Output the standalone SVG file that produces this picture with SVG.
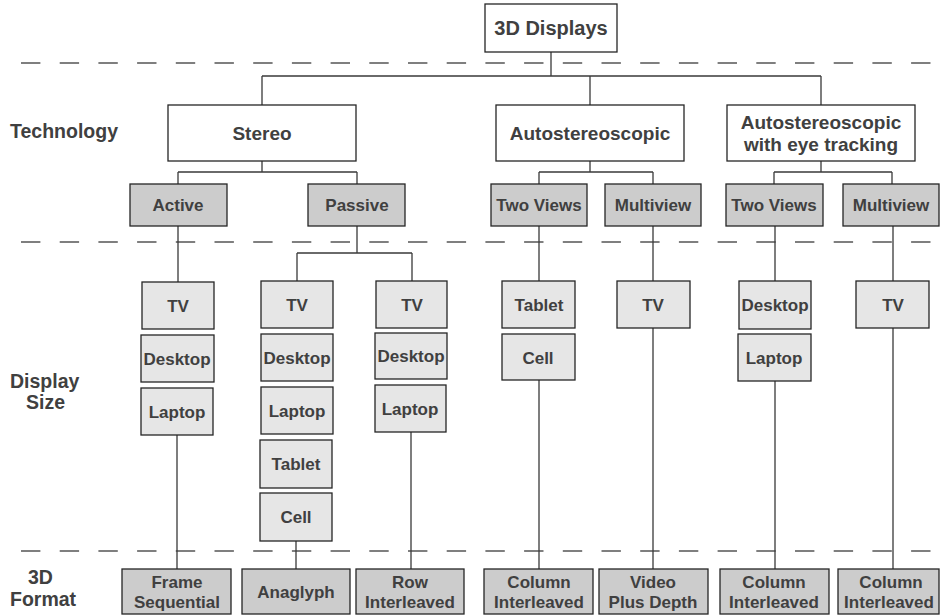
<svg xmlns="http://www.w3.org/2000/svg" width="940" height="616" viewBox="0 0 940 616">
  <style>
    text { font-family: "Liberation Sans", Arial, sans-serif; font-weight: bold; fill: #404040; text-anchor: middle; }
    .lbl { text-anchor: start; font-size: 19.5px; }
    .big { font-size: 19px; }
    .sm { font-size: 17px; }
    .box { stroke: #262626; stroke-width: 1.3; }
    .white { fill: #ffffff; }
    .tech { fill: #cccccc; }
    .size { fill: #e6e6e6; }
    .fmt { fill: #cccccc; }
    .sep { stroke: #555555; stroke-width: 1.3; stroke-dasharray: 19.4 19.3; fill: none; }
    .conn { stroke: #3a3a3a; stroke-width: 1.3; fill: none; }
  </style>
  <rect width="940" height="616" fill="#ffffff"/>

  <!-- layer separators -->
  <g id="separators">
    <line class="sep" x1="21" y1="63" x2="940" y2="63"/>
    <line class="sep" x1="21" y1="242" x2="940" y2="242"/>
    <line class="sep" x1="21" y1="551" x2="940" y2="551"/>
  </g>

  <!-- layer labels -->
  <g id="layer-labels">
    <text class="lbl" x="10" y="138">Technology</text>
    <text class="lbl" x="10" y="388">Display</text>
    <text class="lbl" x="26" y="409">Size</text>
    <text class="lbl" x="28" y="584">3D</text>
    <text class="lbl" x="10" y="606">Format</text>
  </g>

  <!-- connectors -->
  <g id="connectors" class="conn">
    <path d="M551 52 V76 M262 76 H821 M262 76 V105 M590 76 V105 M821 76 V105"/>
    <path d="M262 161 V172 M178 172 H357 M178 172 V184 M357 172 V184"/>
    <path d="M590 161 V172 M539 172 H653 M539 172 V184 M653 172 V184"/>
    <path d="M821 161 V172 M774 172 H892 M774 172 V184 M892 172 V184"/>
    <path d="M178 226 V282 M177 435 V569"/>
    <path d="M357 226 V253 M297 253 H412 M297 253 V281 M412 253 V281"/>
    <path d="M296 541 V569 M411 432 V569"/>
    <path d="M539 226 V281 M539 380 V569"/>
    <path d="M653 226 V281 M653 328 V569"/>
    <path d="M775 226 V281 M775 381 V569"/>
    <path d="M893 226 V281 M893 328 V569"/>
  </g>

  <!-- root -->
  <g id="root">
    <rect class="box white" x="485" y="4" width="132" height="48"/>
    <text style="font-size:20px" x="551" y="35">3D Displays</text>
  </g>

  <!-- technology -->
  <g id="stereo">
    <rect class="box white" x="168" y="105" width="188" height="56"/>
    <text class="big" x="262" y="140">Stereo</text>
  </g>
  <g id="autostereo">
    <rect class="box white" x="496" y="105" width="188" height="56"/>
    <text class="big" x="590" y="140">Autostereoscopic</text>
  </g>
  <g id="autostereo-eye">
    <rect class="box white" x="727" y="105" width="188" height="56"/>
    <text class="big" x="821" y="129">Autostereoscopic</text>
    <text class="big" x="821" y="151">with eye tracking</text>
  </g>

  <g id="active">
    <rect class="box tech" x="130" y="184" width="97" height="42"/>
    <text class="sm" x="178" y="211">Active</text>
  </g>
  <g id="passive">
    <rect class="box tech" x="308" y="184" width="97" height="42"/>
    <text class="sm" x="357" y="211">Passive</text>
  </g>
  <g id="auto-two-views">
    <rect class="box tech" x="491" y="184" width="96" height="42"/>
    <text class="sm" x="539" y="211">Two Views</text>
  </g>
  <g id="auto-multiview">
    <rect class="box tech" x="605" y="184" width="96" height="42"/>
    <text class="sm" x="653" y="211">Multiview</text>
  </g>
  <g id="eye-two-views">
    <rect class="box tech" x="726" y="184" width="97" height="42"/>
    <text class="sm" x="774" y="211">Two Views</text>
  </g>
  <g id="eye-multiview">
    <rect class="box tech" x="843" y="184" width="96" height="42"/>
    <text class="sm" x="891" y="211">Multiview</text>
  </g>

  <!-- display sizes: active -->
  <g id="active-sizes">
    <rect class="box size" x="142" y="282" width="72" height="47"/>
    <text class="sm" x="178" y="312">TV</text>
    <rect class="box size" x="141" y="335" width="73" height="47"/>
    <text class="sm" x="177" y="365">Desktop</text>
    <rect class="box size" x="141" y="388" width="72" height="47"/>
    <text class="sm" x="177" y="418">Laptop</text>
  </g>

  <!-- display sizes: passive anaglyph -->
  <g id="anaglyph-sizes">
    <rect class="box size" x="261" y="281" width="72" height="47"/>
    <text class="sm" x="297" y="311">TV</text>
    <rect class="box size" x="261" y="334" width="72" height="47"/>
    <text class="sm" x="297" y="364">Desktop</text>
    <rect class="box size" x="261" y="387" width="72" height="47"/>
    <text class="sm" x="297" y="417">Laptop</text>
    <rect class="box size" x="260" y="440" width="72" height="48"/>
    <text class="sm" x="296" y="470">Tablet</text>
    <rect class="box size" x="260" y="493" width="72" height="48"/>
    <text class="sm" x="296" y="523">Cell</text>
  </g>

  <!-- display sizes: passive row interleaved -->
  <g id="row-sizes">
    <rect class="box size" x="376" y="281" width="71" height="47"/>
    <text class="sm" x="412" y="311">TV</text>
    <rect class="box size" x="375" y="333" width="72" height="46"/>
    <text class="sm" x="411" y="362">Desktop</text>
    <rect class="box size" x="375" y="385" width="71" height="47"/>
    <text class="sm" x="410" y="415">Laptop</text>
  </g>

  <!-- display sizes: autostereoscopic -->
  <g id="auto-two-sizes">
    <rect class="box size" x="502" y="281" width="73" height="47"/>
    <text class="sm" x="539" y="311">Tablet</text>
    <rect class="box size" x="502" y="334" width="73" height="46"/>
    <text class="sm" x="538" y="364">Cell</text>
  </g>
  <g id="auto-multi-sizes">
    <rect class="box size" x="617" y="281" width="73" height="47"/>
    <text class="sm" x="653" y="311">TV</text>
  </g>
  <g id="eye-two-sizes">
    <rect class="box size" x="739" y="281" width="72" height="48"/>
    <text class="sm" x="775" y="311">Desktop</text>
    <rect class="box size" x="738" y="334" width="73" height="47"/>
    <text class="sm" x="774" y="364">Laptop</text>
  </g>
  <g id="eye-multi-sizes">
    <rect class="box size" x="856" y="281" width="73" height="47"/>
    <text class="sm" x="893" y="311">TV</text>
  </g>

  <!-- 3D formats -->
  <g id="frame-sequential">
    <rect class="box fmt" x="122" y="569" width="109" height="45"/>
    <text class="sm" x="177" y="588">Frame</text>
    <text class="sm" x="177" y="608">Sequential</text>
  </g>
  <g id="anaglyph">
    <rect class="box fmt" x="242" y="569" width="108" height="45"/>
    <text class="sm" x="296" y="598">Anaglyph</text>
  </g>
  <g id="row-interleaved">
    <rect class="box fmt" x="356" y="569" width="108" height="45"/>
    <text class="sm" x="410" y="588">Row</text>
    <text class="sm" x="410" y="608">Interleaved</text>
  </g>
  <g id="column-interleaved-1">
    <rect class="box fmt" x="484" y="569" width="109" height="45"/>
    <text class="sm" x="539" y="588">Column</text>
    <text class="sm" x="539" y="608">Interleaved</text>
  </g>
  <g id="video-plus-depth">
    <rect class="box fmt" x="599" y="569" width="109" height="45"/>
    <text class="sm" x="653" y="588">Video</text>
    <text class="sm" x="653" y="608">Plus Depth</text>
  </g>
  <g id="column-interleaved-2">
    <rect class="box fmt" x="720" y="569" width="109" height="45"/>
    <text class="sm" x="774" y="588">Column</text>
    <text class="sm" x="774" y="608">Interleaved</text>
  </g>
  <g id="column-interleaved-3">
    <rect class="box fmt" x="838" y="569" width="101" height="45"/>
    <text class="sm" x="891" y="588">Column</text>
    <text class="sm" x="889" y="608">Interleaved</text>
  </g>
</svg>
